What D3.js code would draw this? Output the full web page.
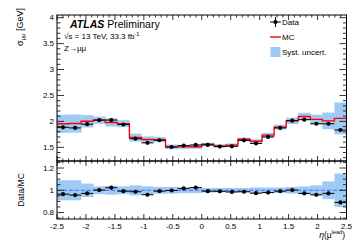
<!DOCTYPE html>
<html><head><meta charset="utf-8">
<script src="https://cdn.jsdelivr.net/npm/d3@7"></script>
<style>body{margin:0;background:#fff}svg{display:block}text{font-family:"Liberation Sans",Arial,sans-serif}</style>
</head><body><svg id="c" width="360" height="240"></svg>
<script>
const nBins = 24;
const etaRange = [-2.5, 2.5];
const dataVals = [1.886,1.874,1.946,2.026,2.026,1.940,1.666,1.586,1.636,1.506,1.534,1.546,1.546,1.514,1.520,1.634,1.574,1.700,1.874,2.014,2.034,1.954,1.954,1.834];
const mcVals   = [1.954,1.958,2.002,2.022,1.980,1.956,1.688,1.652,1.649,1.509,1.508,1.510,1.558,1.528,1.543,1.655,1.616,1.736,1.889,2.010,2.093,2.038,2.010,2.058];
const ratioVals= [0.965,0.957,0.972,1.002,1.023,0.992,0.987,0.960,0.992,0.998,1.017,1.024,0.992,0.991,0.985,0.987,0.974,0.979,0.992,1.002,0.972,0.959,0.972,0.891];
const systRel  = [0.090,0.090,0.060,0.035,0.040,0.035,0.045,0.035,0.030,0.030,0.025,0.025,0.020,0.020,0.020,0.020,0.025,0.025,0.025,0.030,0.035,0.045,0.080,0.150];
const xTicks = [-2.5,-2,-1.5,-1,-0.5,0,0.5,1,1.5,2,2.5];
const yTopTicks = [1.5,2,2.5,3,3.5,4];
const yBotTicks = [0.8,1,1.2];

const svg = d3.select("#c");
const L = 57, R = 346.5, T = 15, M = 161, B = 219;
const binW = (etaRange[1]-etaRange[0])/nBins;
const edges = d3.range(nBins+1).map(i => etaRange[0] + i*binW);
const bins = d3.range(nBins).map(i => ({i, lo: edges[i], hi: edges[i+1], c: (edges[i]+edges[i+1])/2}));

const x = d3.scaleLinear().domain(etaRange).range([L, R]);
const yT = d3.scaleLinear().domain([1.236, 4.052]).range([M, T]);
const yB = d3.scaleLinear().domain([0.742, 1.263]).range([B, M]);
const blue = "#9ecbf4";

// upper band
svg.append("g").selectAll("rect").data(bins).join("rect")
  .attr("x", d => x(d.lo)).attr("width", d => x(d.hi)-x(d.lo)+0.3)
  .attr("y", d => yT(mcVals[d.i]*(1+systRel[d.i])))
  .attr("height", d => yT(mcVals[d.i]*(1-systRel[d.i])) - yT(mcVals[d.i]*(1+systRel[d.i])))
  .attr("fill", blue);
// MC step line
const stepPts = [];
bins.forEach(d => { stepPts.push([d.lo, mcVals[d.i]]); stepPts.push([d.hi, mcVals[d.i]]); });
svg.append("path").attr("d", d3.line().x(p => x(p[0])).y(p => yT(p[1]))(stepPts))
  .attr("fill","none").attr("stroke","#ff0000").attr("stroke-width",1.4);
// data
const gd = svg.append("g");
gd.selectAll("line").data(bins).join("line")
  .attr("x1", d => x(d.lo)).attr("x2", d => x(d.hi))
  .attr("y1", d => yT(dataVals[d.i])).attr("y2", d => yT(dataVals[d.i]))
  .attr("stroke","#000").attr("stroke-width",1);
gd.selectAll("circle").data(bins).join("circle")
  .attr("cx", d => x(d.c)).attr("cy", d => yT(dataVals[d.i])).attr("r", 2.1).attr("fill","#000");

// lower band
svg.append("g").selectAll("rect").data(bins).join("rect")
  .attr("x", d => x(d.lo)).attr("width", d => x(d.hi)-x(d.lo)+0.3)
  .attr("y", d => yB(1+systRel[d.i]))
  .attr("height", d => yB(1-systRel[d.i]) - yB(1+systRel[d.i]))
  .attr("fill", blue);
svg.append("line").attr("x1", L).attr("x2", R).attr("y1", yB(1)).attr("y2", yB(1))
  .attr("stroke","#3050ff").attr("stroke-width",0.8).attr("stroke-dasharray","4,2");
const gr = svg.append("g");
gr.selectAll("line").data(bins).join("line")
  .attr("x1", d => x(d.lo)).attr("x2", d => x(d.hi))
  .attr("y1", d => yB(ratioVals[d.i])).attr("y2", d => yB(ratioVals[d.i]))
  .attr("stroke","#000").attr("stroke-width",1);
gr.selectAll("circle").data(bins).join("circle")
  .attr("cx", d => x(d.c)).attr("cy", d => yB(ratioVals[d.i])).attr("r", 2.1).attr("fill","#000");

// frames
const frame = (y0,y1) => svg.append("rect").attr("x",L).attr("y",y0).attr("width",R-L).attr("height",y1-y0)
  .attr("fill","none").attr("stroke","#000").attr("stroke-width",1);
frame(T,M); frame(M,B);

// ticks
const tk = svg.append("g").attr("stroke","#000").attr("stroke-width",0.8);
function xTicksAt(yb, yt) {
  const minors = d3.range(-25, 26).map(v => v/10);
  minors.forEach(v => {
    const major = Math.abs(v*2 - Math.round(v*2)) < 1e-6;
    const len = major ? 5 : 2.5;
    tk.append("line").attr("x1",x(v)).attr("x2",x(v)).attr("y1",yb).attr("y2",yb-len);
    tk.append("line").attr("x1",x(v)).attr("x2",x(v)).attr("y1",yt).attr("y2",yt+len);
  });
}
xTicksAt(M, T); xTicksAt(B, M);
function yTicksAt(scale, lo, hi, step, majorStep) {
  const n = Math.round((hi-lo)/step);
  d3.range(n+1).map(k => lo + k*step).forEach(v => {
    if (v < scale.domain()[0]-1e-9 || v > scale.domain()[1]+1e-9) return;
    const major = Math.abs(v/majorStep - Math.round(v/majorStep)) < 1e-6;
    const len = major ? 7 : 3.5;
    tk.append("line").attr("x1",L).attr("x2",L+len).attr("y1",scale(v)).attr("y2",scale(v));
    tk.append("line").attr("x1",R).attr("x2",R-len).attr("y1",scale(v)).attr("y2",scale(v));
  });
}
yTicksAt(yT, 1.3, 4.0, 0.1, 0.5);
yTicksAt(yB, 0.75, 1.25, 0.05, 0.2);

const fs = 8;
svg.append("g").selectAll("text").data(xTicks).join("text")
  .attr("x", d => x(d)).attr("y", 229).attr("text-anchor","middle").attr("font-size",fs).text(d => d);
svg.append("g").selectAll("text").data(yTopTicks).join("text")
  .attr("x", L-3).attr("y", d => yT(d)+2.8).attr("text-anchor","end").attr("font-size",fs).text(d => d);
svg.append("g").selectAll("text").data(yBotTicks).join("text")
  .attr("x", L-3).attr("y", d => yB(d)+2.8).attr("text-anchor","end").attr("font-size",fs).text(d => d);

// axis titles
const yl = svg.append("text").attr("transform","translate(23,27) rotate(-90)").attr("text-anchor","middle").attr("font-size",9);
yl.append("tspan").text("σ");
yl.append("tspan").attr("font-size",6).attr("dy",2).text("μμ");
yl.append("tspan").attr("dy",-2).text(" [GeV]");
svg.append("text").attr("transform","translate(24,190) rotate(-90)").attr("text-anchor","middle").attr("font-size",8.5).text("Data/MC");
const xl = svg.append("text").attr("x",345).attr("y",238).attr("text-anchor","end").attr("font-size",8.5);
xl.append("tspan").attr("font-style","italic").text("η");
xl.append("tspan").text("(μ");
xl.append("tspan").attr("font-size",5.5).attr("dy",-4).text("lead");
xl.append("tspan").attr("dy",4).text(")");

// labels
const at = svg.append("text").attr("x",70).attr("y",27.5).attr("font-size",10.5);
at.append("tspan").attr("font-weight","bold").attr("font-style","italic").text("ATLAS");
at.append("tspan").text(" Preliminary");
const ss = svg.append("text").attr("x",64).attr("y",39).attr("font-size",8);
ss.append("tspan").text("√s = 13 TeV, 33.3 fb");
ss.append("tspan").attr("font-size",5.5).attr("dy",-3).text("-1");
svg.append("text").attr("x",64).attr("y",51).attr("font-size",8).text("Z→μμ");

// legend
const lg = svg.append("g");
lg.append("line").attr("x1",270).attr("x2",281).attr("y1",22).attr("y2",22).attr("stroke","#000");
lg.append("line").attr("x1",275.5).attr("x2",275.5).attr("y1",17).attr("y2",27).attr("stroke","#000");
lg.append("circle").attr("cx",275.5).attr("cy",22).attr("r",2.1);
lg.append("text").attr("x",282).attr("y",25).attr("font-size",8).text("Data");
lg.append("line").attr("x1",270).attr("x2",281).attr("y1",37).attr("y2",37).attr("stroke","#ff0000").attr("stroke-width",1.4);
lg.append("text").attr("x",282).attr("y",40).attr("font-size",8).text("MC");
lg.append("rect").attr("x",270.5).attr("y",47).attr("width",10).attr("height",10).attr("fill",blue);
lg.append("text").attr("x",282).attr("y",55).attr("font-size",8).text("Syst. uncert.");
</script></body></html>
